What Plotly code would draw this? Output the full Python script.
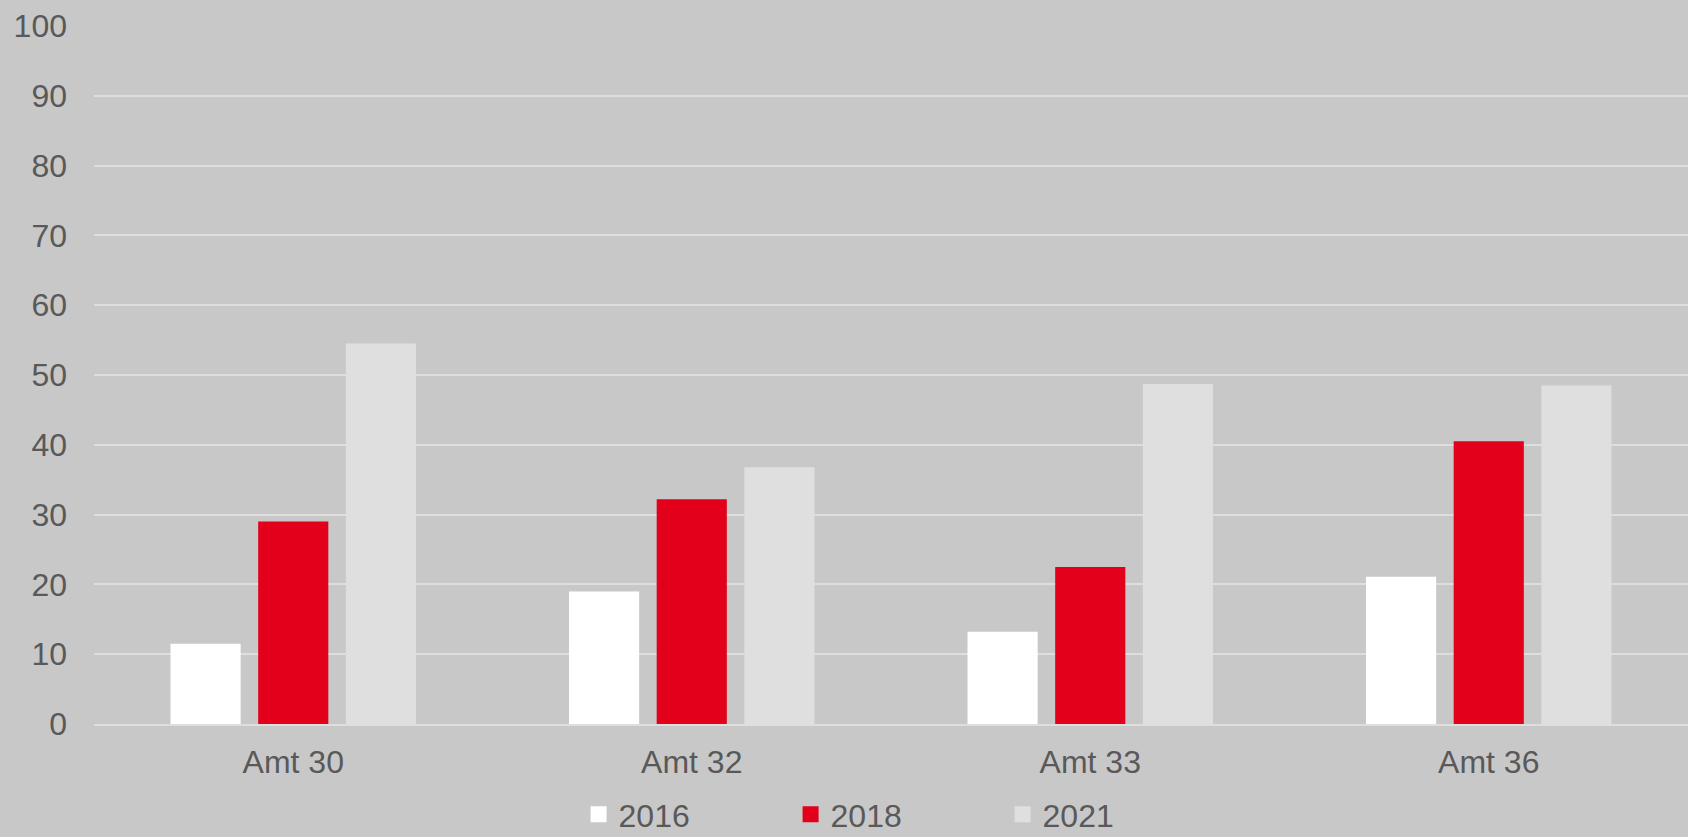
import plotly.graph_objects as go

# --- data ---
categories = ["Amt 30", "Amt 32", "Amt 33", "Amt 36"]
years = ["2016", "2018", "2021"]
values_2016 = [11.5, 19.0, 13.2, 21.1]
values_2018 = [29.0, 32.2, 22.5, 40.5]
values_2021 = [54.5, 36.8, 48.7, 48.5]
y_ticks = [0, 10, 20, 30, 40, 50, 60, 70, 80, 90, 100]

series = [values_2016, values_2018, values_2021]
colors = ["#ffffff", "#e2001a", "#dfdfdf"]

fig = go.Figure()

for name, vals, col in zip(years, series, colors):
    fig.add_trace(go.Bar(
        x=categories,
        y=vals,
        name=name,
        legendgroup=name,
        showlegend=False,
        marker=dict(color=col, line=dict(width=0)),
        hoverinfo="x+y+name",
    ))

# legend entries with bigger square swatches (bar swatches are fixed small)
for name, col in zip(years, colors):
    fig.add_trace(go.Scatter(
        x=[None], y=[None],
        mode="markers",
        name=name,
        legendgroup=name,
        marker=dict(symbol="square", size=16, color=col, line=dict(width=0)),
        hoverinfo="skip",
    ))

fig.update_layout(
    width=1688,
    height=837,
    paper_bgcolor="#c8c8c8",
    plot_bgcolor="#c8c8c8",
    margin=dict(l=94, r=0, t=26, b=113),
    barmode="group",
    bargap=0.34,
    bargroupgap=0.2,
    font=dict(family="Liberation Sans, Arial, sans-serif", size=32, color="#595959"),
    showlegend=True,
    legend=dict(
        orientation="h",
        xref="paper", yref="container",
        x=0.304, xanchor="left",
        y=0.027, yanchor="middle",
        bgcolor="rgba(0,0,0,0)",
        entrywidth=167,
        itemsizing="trace",
        font=dict(size=32, color="#595959"),
        traceorder="normal",
    ),
)

fig.update_yaxes(
    range=[0, 100],
    tickvals=y_ticks,
    showgrid=True,
    gridcolor="#dedede",
    gridwidth=2,
    zeroline=False,
    showline=False,
    ticks="",
    ticklabelstandoff=26,
)

fig.update_xaxes(
    showgrid=False,
    showline=True,
    linecolor="#dedede",
    linewidth=2,
    ticks="",
    ticklabelstandoff=9,
)

fig.write_html("out.html", config={"displayModeBar": False},
               post_script="document.body.style.margin='0';")
